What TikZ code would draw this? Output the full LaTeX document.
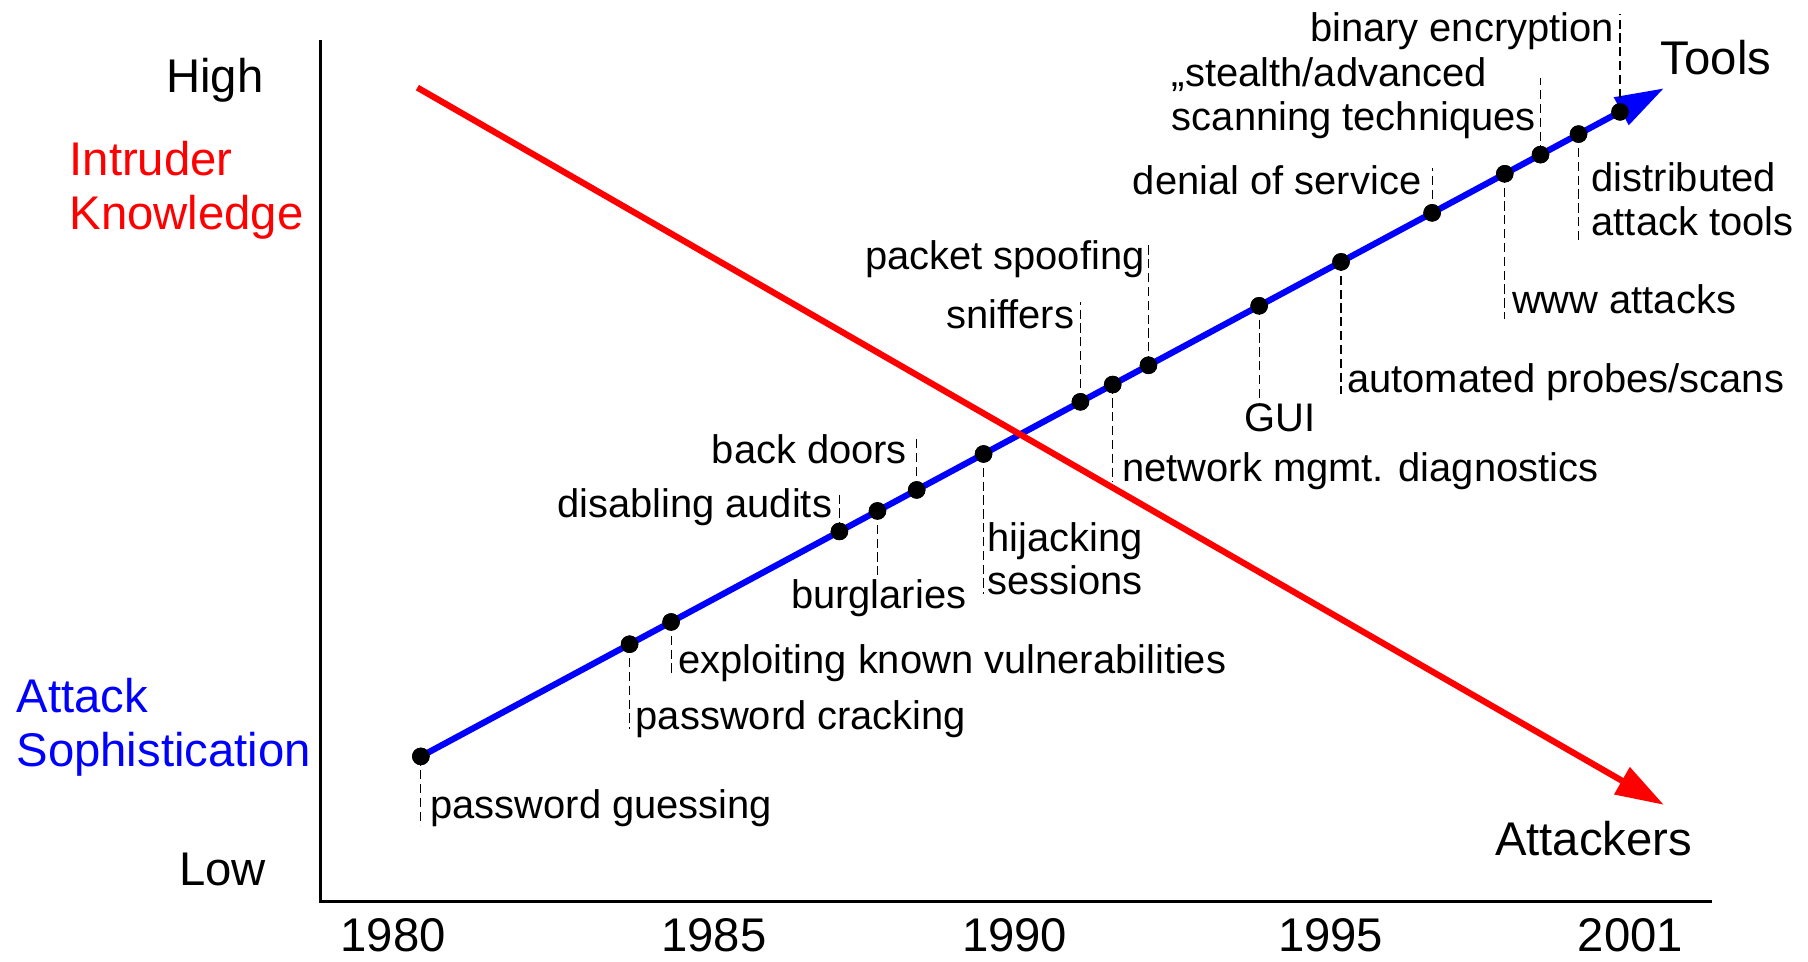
\documentclass[tikz,border=0pt]{standalone}
\usepackage{fontspec}
\setmainfont{Liberation Sans}
\usetikzlibrary{arrows.meta}
\definecolor{trendred}{RGB}{255,0,0}
\definecolor{trendblue}{RGB}{0,0,255}
\tikzset{
  lbl/.style={font=\fontsize{17.3}{20}\selectfont, inner sep=0pt},
  big/.style={font=\fontsize{20.5}{24}\selectfont, inner sep=0pt},
  event/.style={circle, fill=black, inner sep=0pt, minimum size=7.6pt},
  lead/.style={line width=0.5pt, dash pattern=on 4pt off 2pt},
  axisline/.style={line width=1.3pt, line cap=rect},
  trend/.style={line width=2.7pt, -{Triangle[length=21pt,width=13pt]}},
}
\begin{document}
\begin{tikzpicture}[x=0.5pt,y=-0.5pt]
\useasboundingbox (0,0) rectangle (1568,834);

% axes
\coordinate (origin) at (278,782);
\coordinate (ytop) at (278,36);
\coordinate (xend) at (1483,782);
\draw[axisline] (ytop) -- (origin) -- (xend);

% axis labels
\node[big, anchor=base east] (high) at (229,80) {High};
\node[big, anchor=base east] (low) at (231,768) {Low};
\node[big, anchor=base west, text=trendred] (ik1) at (60,152) {Intruder};
\node[big, anchor=base west, text=trendred] (ik2) at (60,199) {Knowledge};
\node[big, anchor=base west, text=trendblue] (as1) at (14,618) {Attack};
\node[big, anchor=base west, text=trendblue] (as2) at (14,665) {Sophistication};
\node[big, anchor=base] (y1980) at (341,825) {1980};
\node[big, anchor=base] (y1985) at (619,825) {1985};
\node[big, anchor=base] (y1990) at (880,825) {1990};
\node[big, anchor=base] (y1995) at (1154,825) {1995};
\node[big, anchor=base] (y2001) at (1414,825) {2001};

% events along the sophistication trend
\node[event] (e1) at (365,656) {};
\node[event] (e2) at (546,558.7) {};
\node[event] (e3) at (582,539.4) {};
\node[event] (e4) at (728,460.9) {};
\node[event] (e5) at (761,443.1) {};
\node[event] (e6) at (795,424.9) {};
\node[event] (e7) at (853,393.7) {};
\node[event] (e8) at (937,348.5) {};
\node[event] (e9) at (965,333.5) {};
\node[event] (e10) at (996,316.8) {};
\node[event] (e11) at (1092,265.2) {};
\node[event] (e12) at (1163,227.1) {};
\node[event] (e13) at (1242,184.6) {};
\node[event] (e14) at (1305,150.7) {};
\node[event] (e15) at (1336,134.1) {};
\node[event] (e16) at (1369,116.3) {};
\node[event] (e17) at (1405,97) {};

% trend lines
\coordinate (btip) at (1443,76.6);
\coordinate (rstart) at (362,76);
\coordinate (rtip) at (1443,698);
\draw[trend, trendblue] (e1.center) -- (btip);
\draw[trend, trendred] (rstart) -- (rtip);
\foreach \i in {1,...,17} \fill (e\i) circle (3.8pt);

% leader ends
\coordinate (l1) at (365,716);
\coordinate (l2) at (546,632);
\coordinate (l3) at (582,585);
\coordinate (l4) at (728,428);
\coordinate (l5) at (761,500);
\coordinate (l6) at (795,380);
\coordinate (l7) at (853,515);
\coordinate (l8) at (937,262);
\coordinate (l9) at (965,418);
\coordinate (l10) at (996,212);
\coordinate (l11) at (1092,350);
\coordinate (l12) at (1163,342);
\coordinate (l13) at (1242,146);
\coordinate (l14) at (1305,277);
\coordinate (l15) at (1336,68);
\coordinate (l16) at (1369,208);
\coordinate (l17) at (1405,12);
\foreach \i in {1,...,17} \draw[lead] (e\i.center) -- (l\i);

% event labels
\node[lbl, anchor=base west] (t1) at (373,710) {password guessing};
\node[lbl, anchor=base west] (t2) at (551,633) {password cracking};
\node[lbl, anchor=base west] (t3) at (588,584) {exploiting known vulnerabilities};
\node[lbl, anchor=base east] (t4) at (722,449) {disabling audits};
\node[lbl, anchor=base] (t5) at (762,528) {burglaries};
\node[lbl, anchor=base east] (t6) at (787,402) {back doors};
\node[lbl, anchor=base west] (t7a) at (856,478) {hijacking};
\node[lbl, anchor=base west] (t7b) at (856,516) {sessions};
\node[lbl, anchor=base east] (t8) at (932,285) {sniffers};
\node[lbl, anchor=base west] (t9) at (973,418) {network mgmt. diagnostics};
\node[lbl, anchor=base east] (t10) at (993,234) {packet spoofing};
\node[lbl, anchor=base] (t11) at (1110,374) {GUI};
\node[lbl, anchor=base west] (t12) at (1168,340) {automated probes/scans};
\node[lbl, anchor=base east] (t13) at (1233,169) {denial of service};
\node[lbl, anchor=base west] (t14) at (1311,272) {www attacks};
\node[lbl, anchor=base west] (t15a) at (1016,75) {„stealth/advanced};
\node[lbl, anchor=base west] (t15b) at (1016,113) {scanning techniques};
\node[lbl, anchor=base west] (t16a) at (1380,166) {distributed};
\node[lbl, anchor=base west] (t16b) at (1380,204) {attack tools};
\node[lbl, anchor=base east] (t17) at (1400,36) {binary encryption};

% trend end labels
\node[big, anchor=base west] (tools) at (1440,65) {Tools};
\node[big, anchor=base] (attackers) at (1382,742) {Attackers};
\end{tikzpicture}
\end{document}
